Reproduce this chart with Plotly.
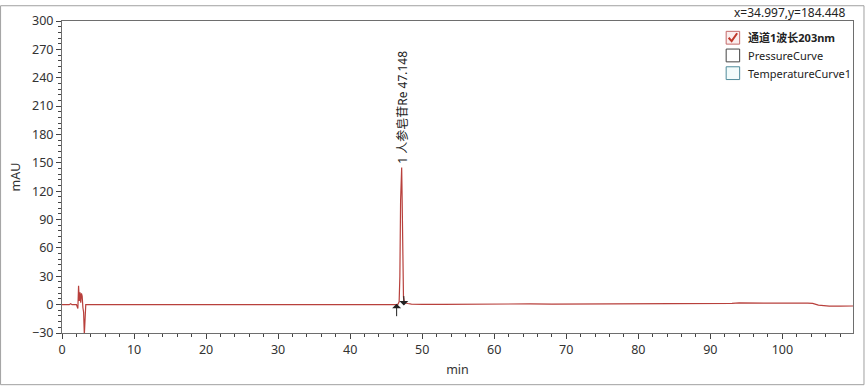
import plotly.graph_objects as go

# ---- data ----
time_min = [0.0, 1.0, 1.2, 1.3, 1.4, 2.0, 2.2, 2.3, 2.4, 2.5, 2.6, 2.7, 2.8, 2.9, 3.0, 3.1, 3.2, 3.3, 3.5,
            5.0, 8.0, 11.0, 11.5, 12.0, 13.0, 14.0, 15.0, 17.0, 20.0, 25.0, 30.0, 35.0, 40.0, 44.0,
            46.3, 46.6, 46.8, 46.9, 47.0, 47.08, 47.15, 47.22, 47.3, 47.4, 47.55, 47.7, 48.0, 48.5, 49.0,
            50.0, 53.0, 56.0, 58.0, 60.0, 62.0, 64.0, 65.0, 68.0, 72.0, 76.0, 77.5, 78.5, 80.0, 84.0,
            88.0, 91.0, 93.0, 94.0, 96.0, 100.0, 103.5, 104.2, 105.0, 105.8, 106.5, 108.0, 110.0]
absorbance = [0.0, 0.0, 1.0, 0.0, 0.0, 0.0, -4.0, 20.0, 4.0, 13.0, 2.0, 12.0, 9.0, -3.0, -8.0, -32.0, -4.0, 0.0, 0.0,
              0.0, 0.0, 0.0, -0.5, -0.3, -0.6, -0.4, -0.2, -0.3, -0.5, -0.4, -0.3, -0.4, -0.3, -0.3,
              -0.2, 0.0, 3.0, 30.0, 110.0, 140.0, 145.0, 110.0, 40.0, 8.0, 2.0, 1.5, 1.2, 0.6, 0.3,
              0.3, 0.3, 0.4, 0.6, 1.0, 1.0, 1.2, 0.8, 0.5, 0.5, 0.6, 1.2, 0.8, 0.7, 0.8,
              0.9, 1.0, 1.3, 1.8, 1.5, 1.6, 1.7, 1.4, -0.5, -1.0, -1.6, -1.6, -1.4]

peak_rt = 47.148
peak_label = "1 人参皂苷Re 47.148"
peak_start = 46.45
peak_end = 47.45

x_ticks = [0, 10, 20, 30, 40, 50, 60, 70, 80, 90, 100]
y_ticks = [-30, 0, 30, 60, 90, 120, 150, 180, 210, 240, 270, 300]

legend_names = ["通道1波长203nm", "PressureCurve", "TemperatureCurve1"]

LINE = "#b8403c"
AX = "#6e6e6e"
FONT = "Noto Sans, Noto Sans CJK SC, sans-serif"

W, H = 866, 387
L, R, T, B = 62, 12, 16, 54
PW, PH = W - L - R, H - T - B

def px(xp):
    return (xp - L) / PW

def py(yp):
    return (H - B - yp) / PH

fig = go.Figure()
fig.add_trace(go.Scatter(x=time_min, y=absorbance, mode="lines",
                         line=dict(color=LINE, width=1.2), showlegend=False, hoverinfo="skip"))

axis_common = dict(showline=True, linecolor=AX, linewidth=1, mirror=True, ticks="outside",
                   ticklen=5, tickcolor="#444", showgrid=False, zeroline=False,
                   tickfont=dict(family=FONT, size=12.5, color="#333"))

fig.update_xaxes(range=[0, 109.8], tickvals=x_ticks, title=dict(text="min", font=dict(family=FONT, size=12.5, color="#333"), standoff=8),
                 minor=dict(ticks="outside", ticklen=3, dtick=2, tickcolor="#444", showgrid=False),
                 **axis_common)
fig.update_yaxes(range=[-30, 300], tickvals=y_ticks, title=dict(text="mAU", font=dict(family=FONT, size=12.5, color="#333"), standoff=8),
                 minor=dict(ticks="outside", ticklen=3, dtick=6, tickcolor="#444", showgrid=False),
                 **axis_common)

annotations = [
    dict(x=peak_rt, y=147, xref="x", yref="y", text=peak_label, textangle=-90, showarrow=False,
         xanchor="center", yanchor="bottom", font=dict(family=FONT, size=12, color="#222")),
    dict(x=peak_start, y=1, xref="x", yref="y", ax=0, ay=14, showarrow=True, arrowhead=1,
         arrowsize=1.5, arrowwidth=1, arrowcolor="#222", text=""),
    dict(x=peak_end, y=-1, xref="x", yref="y", ax=0, ay=-11, showarrow=True, arrowhead=1,
         arrowsize=1.5, arrowwidth=1, arrowcolor="#222", text=""),
    dict(x=px(848), y=py(7), xref="paper", yref="paper", text="x=34.997,y=184.448", showarrow=False,
         xanchor="right", yanchor="middle", font=dict(family=FONT, size=12, color="#222")),
]

shapes = [
    dict(type="rect", xref="paper", yref="paper", x0=px(0.5), x1=px(865), y0=py(0.5), y1=py(385.5),
         line=dict(color="#a0a0a0", width=1), layer="below"),
]

box_colors = ["#c46a6a", "#444444", "#4f8a9a"]
box_fill = ["#fbeeee", "white", "#f2fbfb"]
centers = [33, 51, 69]
for i, name in enumerate(legend_names):
    cy = centers[i]
    shapes.append(dict(type="rect", xref="paper", yref="paper", x0=px(727), x1=px(740.5),
                       y0=py(cy + 6.5), y1=py(cy - 6.5), line=dict(color=box_colors[i], width=1),
                       fillcolor=box_fill[i]))
    annotations.append(dict(x=px(747), y=py(cy), xref="paper", yref="paper",
                            text=("<b>%s</b>" % name) if i == 0 else name, showarrow=False,
                            xanchor="left", yanchor="middle",
                            font=dict(family=FONT, size=11, color="#222")))
# check mark in first box
shapes.append(dict(type="path", xref="paper", yref="paper",
                   path="M %f %f L %f %f L %f %f" % (px(729.5), py(33), px(732.5), py(36.5), px(738), py(28.5)),
                   line=dict(color="#c0392b", width=2)))

fig.update_layout(width=W, height=H, margin=dict(l=L, r=R, t=T, b=B),
                  paper_bgcolor="white", plot_bgcolor="white",
                  annotations=annotations, shapes=shapes, showlegend=False,
                  font=dict(family=FONT))

fig.write_html("out.html")
